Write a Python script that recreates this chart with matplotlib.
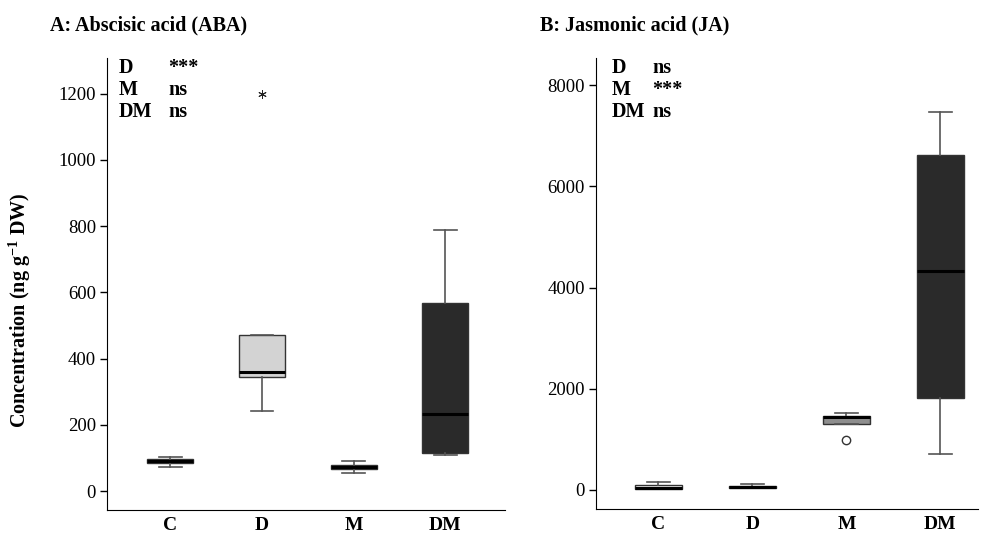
#!/usr/bin/env python3

import matplotlib.pyplot as plt

plt.rcParams['font.family'] = ['Liberation Serif', 'DejaVu Serif']
plt.rcParams['mathtext.fontset'] = 'custom'
plt.rcParams['mathtext.rm'] = 'Liberation Serif'
plt.rcParams['mathtext.bf'] = 'Liberation Serif:bold'

groups = ['C', 'D', 'M', 'DM']
fills = ['#f0f0f0', '#d3d3d3', '#8e8e8e', '#2a2a2a']

# ABA (ng g-1 DW): q1, median, q3, lower whisker, upper whisker, outliers
aba_q1 = [84, 345, 66, 114]
aba_med = [90, 360, 72, 233]
aba_q3 = [98, 472, 79, 568]
aba_lo = [73, 242, 56, 110]
aba_hi = [103, 472, 90, 788]
aba_out = [[], [1200], [], []]

# JA (ng g-1 DW)
ja_q1 = [14, 34, 1300, 1810]
ja_med = [35, 60, 1432, 4320]
ja_q3 = [93, 80, 1459, 6610]
ja_lo = [14, 34, 1300, 707]
ja_hi = [164, 113, 1519, 7475]
ja_out = [[], [], [990], []]

aba_marks = [('D', '***'), ('M', 'ns'), ('DM', 'ns')]
ja_marks = [('D', 'ns'), ('M', '***'), ('DM', 'ns')]


def stats(q1, med, q3, lo, hi, out):
    return [dict(q1=a, med=b, q3=c, whislo=d, whishi=e, fliers=f, label=g)
            for a, b, c, d, e, f, g in zip(q1, med, q3, lo, hi, out, groups)]


W, H = 982, 538
fig = plt.figure(figsize=(W / 100, H / 100), dpi=100)


def make_ax(left, right, top, bottom):
    return fig.add_axes([left / W, 1 - bottom / H, (right - left) / W, (bottom - top) / H])


axA = make_ax(107, 505, 58, 510)
axB = make_ax(596, 978, 58, 509)


def draw(ax, st, flier):
    b = ax.bxp(st, positions=[1, 2, 3, 4], widths=0.5, patch_artist=True,
               boxprops=dict(edgecolor='#333333', lw=1.0),
               medianprops=dict(color='black', lw=2.2),
               whiskerprops=dict(color='#555555', lw=1.2),
               capprops=dict(color='#555555', lw=1.2),
               flierprops=flier)
    for p, c in zip(b['boxes'], fills):
        p.set_facecolor(c)
    for s in ['top', 'right']:
        ax.spines[s].set_visible(False)
    ax.tick_params(axis='x', length=0, pad=5, labelsize=14)
    ax.tick_params(axis='y', length=5, width=1, pad=3, labelsize=13.5)
    for t in ax.get_xticklabels():
        t.set_fontweight('bold')


draw(axA, stats(aba_q1, aba_med, aba_q3, aba_lo, aba_hi, aba_out),
     dict(marker=(6, 2, 0), markersize=6, markeredgecolor='#222222', markeredgewidth=0.7))
axA.set_xlim(0.31, 4.65)
axA.set_ylim(-57, 1308)
axA.set_yticks([0, 200, 400, 600, 800, 1000, 1200])

draw(axB, stats(ja_q1, ja_med, ja_q3, ja_lo, ja_hi, ja_out),
     dict(marker='o', markersize=6, markerfacecolor='white', markeredgecolor='#333333', markeredgewidth=1))
axB.set_xlim(0.335, 4.40)
axB.set_ylim(-376, 8535)
axB.set_yticks([0, 2000, 4000, 6000, 8000])

fig.text(50 / W, 1 - 25 / H, 'A: Abscisic acid (ABA)', fontsize=14.5, fontweight='bold', va='center')
fig.text(540 / W, 1 - 25 / H, 'B: Jasmonic acid (JA)', fontsize=14.5, fontweight='bold', va='center')
fig.text(20 / W, 1 - 310 / H, r'Concentration (ng g$^{\mathbf{-1}}$ DW)', fontsize=14.5,
         fontweight='bold', rotation=90, va='center', ha='center')

for marks, x1, x2 in [(aba_marks, 119, 168), (ja_marks, 612, 652)]:
    for i, (f, s) in enumerate(marks):
        y = 1 - (68 + 22 * i) / H
        fig.text(x1 / W, y, f, fontsize=14.5, fontweight='bold', va='center')
        fig.text(x2 / W, y, s, fontsize=14.5, fontweight='bold', va='center')

fig.savefig('out.png', dpi=100)
